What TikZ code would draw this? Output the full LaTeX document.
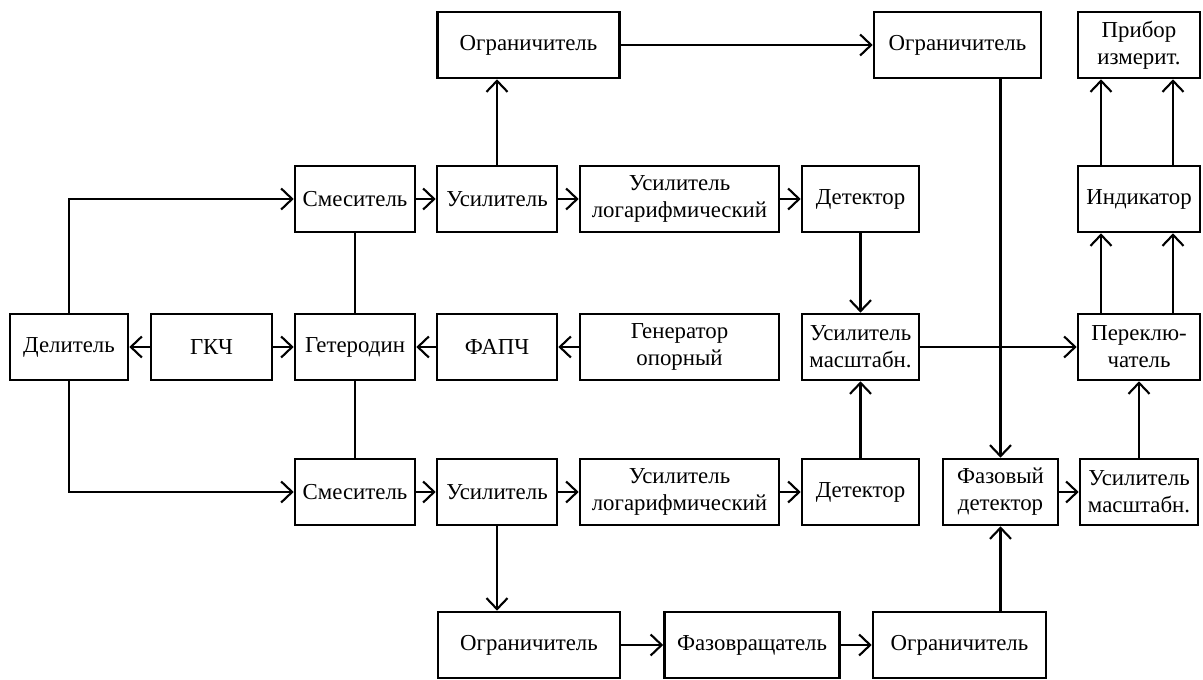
\documentclass[tikz,border=0pt]{standalone}
\usepackage{fontspec}
\setmainfont{Liberation Serif}
\usetikzlibrary{arrows.meta}

\begin{document}
\begin{tikzpicture}[
    blk/.style={draw, line width=1.5pt, minimum height=1.32cm, inner sep=0pt,
        align=center, font=\fontsize{13}{15.5}\selectfont},
    arr/.style={-{Straight Barb[length=2.2mm,width=4.2mm]}},
    line width=1.2pt]
    \useasboundingbox (0,0) rectangle (24.06,13.6);

    %top row
    \node[blk, minimum width=3.64cm] (lim1) at (10.57,12.70) {Ограничитель};
    \node[blk, minimum width=3.34cm] (lim2) at (19.15,12.70) {Ограничитель};
    \node[blk, minimum width=2.44cm] (meter) at (22.78,12.70) {Прибор\\измерит.};

    % upper channel
    \node[blk, minimum width=2.4cm] (mix1) at (7.10,9.62) {Смеситель};
    \node[blk, minimum width=2.4cm] (amp1) at (9.94,9.62) {Усилитель};
    \node[blk, minimum width=3.98cm] (log1) at (13.59,9.62) {Усилитель\\логарифмический};
    \node[blk, minimum width=2.34cm] (det1) at (17.21,9.62) {Детектор};
    \node[blk, minimum width=2.44cm] (ind) at (22.78,9.62) {Индикатор};

    % middle row
    \node[blk, minimum width=2.36cm] (dl) at (1.38,6.66) {Делитель};
    \node[blk, minimum width=2.42cm] (gkch) at (4.23,6.66) {ГКЧ};
    \node[blk, minimum width=2.4cm] (het) at (7.10,6.66) {Гетеродин};
    \node[blk, minimum width=2.4cm] (fapch) at (9.94,6.66) {ФАПЧ};
    \node[blk, minimum width=3.98cm] (gen) at (13.59,6.66) {Генератор\\опорный};
    \node[blk, minimum width=2.34cm] (scl1) at (17.21,6.66) {Усилитель\\масштабн.};
    \node[blk, minimum width=2.44cm] (sw) at (22.78,6.66) {Переклю-\\чатель};

    % lower channel
    \node[blk, minimum width=2.4cm] (mix2) at (7.10,3.76) {Смеситель};
    \node[blk, minimum width=2.4cm] (amp2) at (9.94,3.76) {Усилитель};
    \node[blk, minimum width=3.98cm] (log2) at (13.59,3.76) {Усилитель\\логарифмический};
    \node[blk, minimum width=2.34cm] (det2) at (17.21,3.76) {Детектор};
    \node[blk, minimum width=2.3cm] (phdet) at (20.01,3.76) {Фазовый\\детектор};
    \node[blk, minimum width=2.36cm] (scl2) at (22.78,3.76) {Усилитель\\масштабн.};

    % bottom row
    \node[blk, minimum width=3.64cm] (lim4) at (10.58,0.70) {Ограничитель};
    \node[blk, minimum width=3.5cm] (phrot) at (15.04,0.70) {Фазовращатель};
    \node[blk, minimum width=3.46cm] (lim3) at (19.19,0.70) {Ограничитель};

    %limiter chain on top
    \draw[arr] (amp1.north) -- (amp1.north |- lim1.south);
    \draw[arr] (lim1) -- (lim2);
    \draw[arr] (phdet.north |- lim2.south) -- (phdet.north);

    %divider and heterodyne
    \draw[arr] (dl.north) |- (mix1.west);
    \draw[arr] (dl.south) |- (mix2.west);
    \draw[arr] (gkch) -- (dl);
    \draw[arr] (gkch) -- (het);
    \draw (het) -- (mix1);
    \draw (het) -- (mix2);
    \draw[arr] (fapch) -- (het);
    \draw[arr] (gen) -- (fapch);

    %upper channel arrows
    \draw[arr] (mix1) -- (amp1);
    \draw[arr] (amp1) -- (log1);
    \draw[arr] (log1) -- (det1);
    \draw[arr] (det1) -- (scl1);

    %lower channel arrows
    \draw[arr] (mix2) -- (amp2);
    \draw[arr] (amp2) -- (log2);
    \draw[arr] (log2) -- (det2);
    \draw[arr] (det2) -- (scl1);
    \draw[arr] (amp2.south) -- (amp2.south |- lim4.north);
    \draw[arr] (lim4) -- (phrot);
    \draw[arr] (phrot) -- (lim3);
    \draw[arr] (phdet.south |- lim3.north) -- (phdet.south);

    %switch and indicator
    \draw[arr] (scl1) -- (sw);
    \draw[arr] (phdet) -- (scl2);
    \draw[arr] (scl2) -- (sw);
    \draw[arr] ([xshift=-0.76cm]sw.north) -- ([xshift=-0.76cm]ind.south);
    \draw[arr] ([xshift=0.68cm]sw.north) -- ([xshift=0.68cm]ind.south);
    \draw[arr] ([xshift=-0.76cm]ind.north) -- ([xshift=-0.76cm]meter.south);
    \draw[arr] ([xshift=0.68cm]ind.north) -- ([xshift=0.68cm]meter.south);
\end{tikzpicture}
\end{document}
